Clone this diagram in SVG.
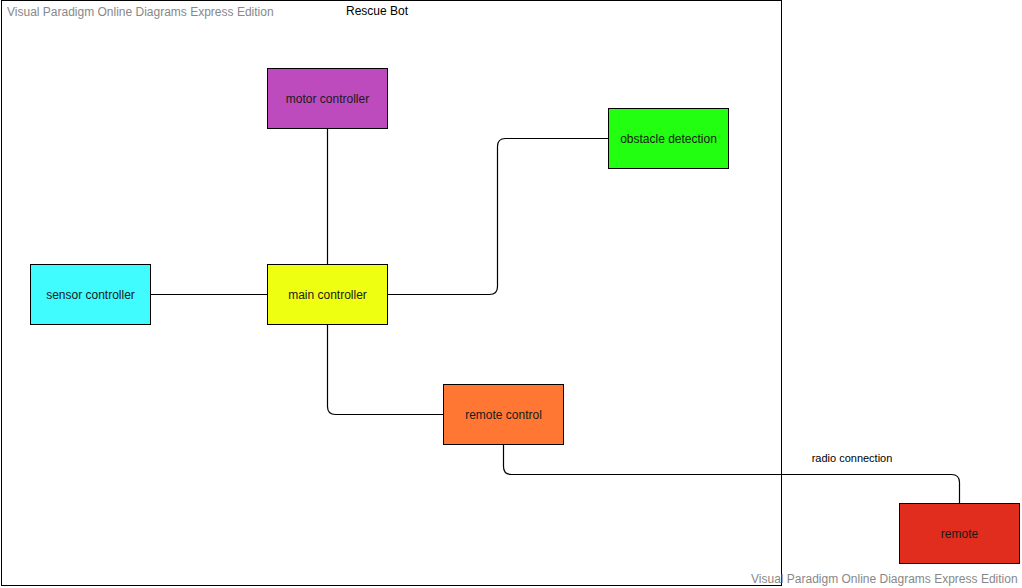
<svg xmlns="http://www.w3.org/2000/svg" width="1022" height="588" viewBox="0 0 1022 588">
<style>
.node rect{stroke:#000;stroke-width:1}
.node text{font-family:"Liberation Sans",Arial,sans-serif;font-size:12px;fill:#1a1a1a;text-anchor:middle;dominant-baseline:central}
.wm{font-family:"Liberation Sans",Arial,sans-serif;font-size:12px;fill:#888}
.conn path{fill:none;stroke:#000;stroke-width:1.2}
.lbl{font-family:"Liberation Sans",Arial,sans-serif;font-size:11px;fill:#000;text-anchor:middle}
</style>
<rect width="1022" height="588" fill="#fff"/>
<g id="frame">
<rect x="1.5" y="0.5" width="780" height="585" fill="none" stroke="#000" stroke-width="1"/>
<text x="377" y="15" style="font-family:'Liberation Sans',Arial,sans-serif;font-size:12px;fill:#000" text-anchor="middle">Rescue Bot</text>
</g>
<text class="wm" x="7" y="16">Visual Paradigm Online Diagrams Express Edition</text>
<g class="conn" id="connectors">
<path d="M327.5 128V264"/>
<path d="M150 294.5H267"/>
<path d="M387 294.5H489.5Q497.5 294.5 497.5 286.5V146.5Q497.5 138.5 505.5 138.5H608"/>
<path d="M327.5 324V406.5Q327.5 414.5 335.5 414.5H443"/>
<path d="M503.5 444V466.5Q503.5 474.5 511.5 474.5H951.5Q959.5 474.5 959.5 482.5V503"/>
<text class="lbl" x="852" y="462">radio connection</text>
</g>
<g class="node" id="motor"><rect x="267.5" y="68.5" width="120" height="60" fill="#BE4BBE"/><text x="327.5" y="98.5">motor controller</text></g>
<g class="node" id="obstacle"><rect x="608.5" y="108.5" width="120" height="60" fill="#22FF11"/><text x="668.5" y="138.5">obstacle detection</text></g>
<g class="node" id="sensor"><rect x="30.5" y="264.5" width="120" height="60" fill="#40FCFF"/><text x="90.5" y="294.5">sensor controller</text></g>
<g class="node" id="main"><rect x="267.5" y="264.5" width="120" height="60" fill="#EEFF11"/><text x="327.5" y="294.5">main controller</text></g>
<g class="node" id="remotecontrol"><rect x="443.5" y="384.5" width="120" height="60" fill="#FF7733"/><text x="503.5" y="414.5">remote control</text></g>
<g class="node" id="remote"><rect x="899.5" y="503.5" width="120" height="60" fill="#E02D1E"/><text x="959.5" y="533.5">remote</text></g>
<text class="wm" x="751" y="583">Visual Paradigm Online Diagrams Express Edition</text>
</svg>
